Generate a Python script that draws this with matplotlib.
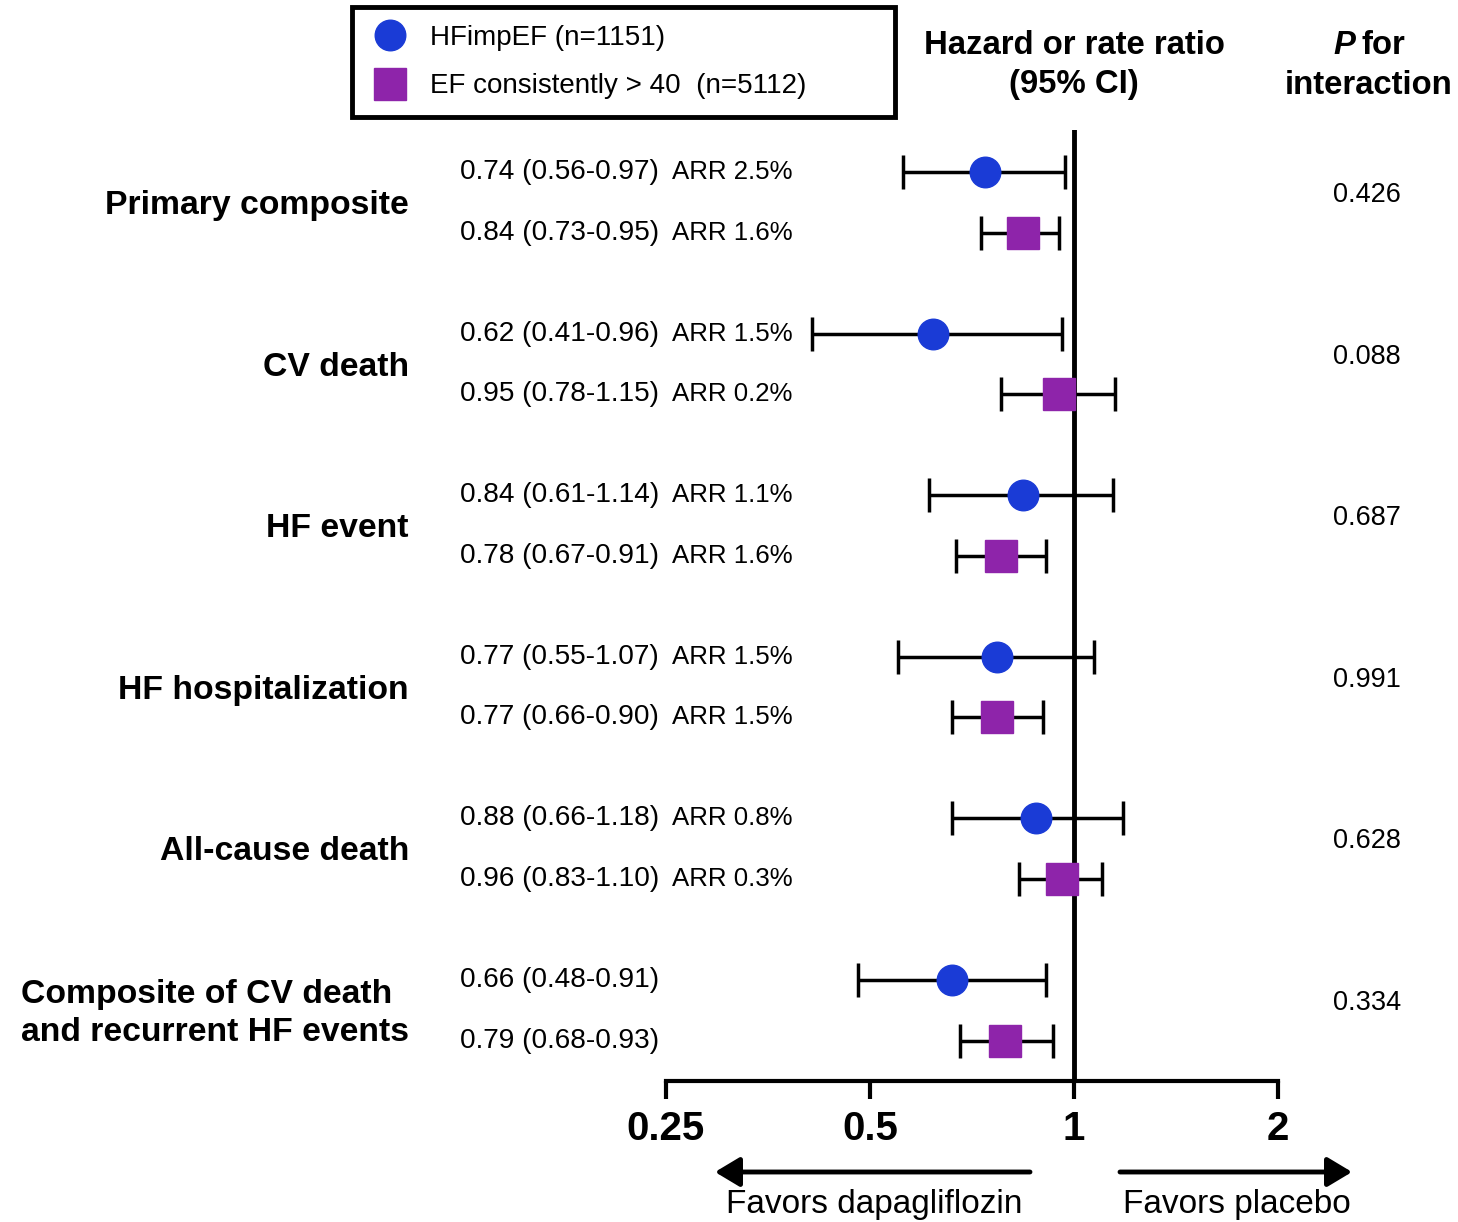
import numpy as np
import matplotlib
matplotlib.use("Agg")
import matplotlib.pyplot as plt
from matplotlib.transforms import blended_transform_factory

plt.rcParams['font.family'] = ['Liberation Sans', 'DejaVu Sans']

# data
outcomes = ['Primary composite', 'CV death', 'HF event', 'HF hospitalization',
            'All-cause death', 'Composite of CV death\nand recurrent HF events']
hr_imp = [0.74, 0.62, 0.84, 0.77, 0.88, 0.66]
lo_imp = [0.56, 0.41, 0.61, 0.55, 0.66, 0.48]
hi_imp = [0.97, 0.96, 1.14, 1.07, 1.18, 0.91]
arr_imp = ['2.5%', '1.5%', '1.1%', '1.5%', '0.8%', None]
hr_ef = [0.84, 0.95, 0.78, 0.77, 0.96, 0.79]
lo_ef = [0.73, 0.78, 0.67, 0.66, 0.83, 0.68]
hi_ef = [0.95, 1.15, 0.91, 0.90, 1.10, 0.93]
arr_ef = ['1.6%', '0.2%', '1.6%', '1.5%', '0.3%', None]
p_int = ['0.426', '0.088', '0.687', '0.991', '0.628', '0.334']
x_ticks = [0.25, 0.5, 1, 2]
x_ticklabels = ['0.25', '0.5', '1', '2']

blue = '#1a3bd6'
purple = '#8e24aa'

W, H = 1458, 1222
fig = plt.figure(figsize=(W / 100, H / 100), dpi=100)


def fx(px):
    return px / W


def fy(py):
    return 1 - py / H


ax = fig.add_axes([fx(666), fy(1081), fx(1278) - fx(666), fy(130) - fy(1081)])

y_imp = np.arange(len(outcomes)).astype(float)
y_ef = y_imp + 0.375

hr_imp = np.array(hr_imp)
hr_ef = np.array(hr_ef)
err_imp = [hr_imp - np.array(lo_imp), np.array(hi_imp) - hr_imp]
err_ef = [hr_ef - np.array(lo_ef), np.array(hi_ef) - hr_ef]

ax.axvline(1, color='black', lw=3.5, zorder=1)
ax.errorbar(hr_imp, y_imp, xerr=err_imp, fmt='none', ecolor='black',
            elinewidth=2.5, capsize=12, capthick=2.5, zorder=2)
ax.errorbar(hr_ef, y_ef, xerr=err_ef, fmt='none', ecolor='black',
            elinewidth=2.5, capsize=12, capthick=2.5, zorder=2)
h1, = ax.plot(hr_imp, y_imp, 'o', color=blue, markersize=22, zorder=3,
              label='HFimpEF (n=1151)')
h2, = ax.plot(hr_ef, y_ef, 's', color=purple, markersize=23, zorder=3,
              label='EF consistently > 40  (n=5112)')

ax.set_xscale('log', base=2)
ax.set_xlim(0.25, 2)
ax.set_ylim(5.625, -0.26)
ax.set_xticks(x_ticks)
ax.set_xticklabels(x_ticklabels, fontsize=29, fontweight='bold')
ax.xaxis.set_minor_locator(matplotlib.ticker.NullLocator())
ax.set_yticks([])
for s in ['left', 'top', 'right']:
    ax.spines[s].set_visible(False)
ax.spines['bottom'].set_linewidth(3)
ax.tick_params(axis='x', direction='out', length=13, width=3, pad=8)

# row texts
tr = blended_transform_factory(fig.transFigure, ax.transData)
for i, name in enumerate(outcomes):
    ax.text(fx(409), (y_imp[i] + y_ef[i]) / 2 + 0.02, name, transform=tr,
            ha='right', va='center', multialignment='left', fontsize=24.3,
            fontweight='bold', linespacing=1.3)
    ax.text(fx(460), y_imp[i], f'{hr_imp[i]:.2f} ({lo_imp[i]:.2f}-{hi_imp[i]:.2f})',
            transform=tr, ha='left', va='center', fontsize=20.2)
    ax.text(fx(460), y_ef[i], f'{hr_ef[i]:.2f} ({lo_ef[i]:.2f}-{hi_ef[i]:.2f})',
            transform=tr, ha='left', va='center', fontsize=20.2)
    if arr_imp[i]:
        ax.text(fx(672), y_imp[i], f'ARR {arr_imp[i]}', transform=tr,
                ha='left', va='center', fontsize=18.6)
    if arr_ef[i]:
        ax.text(fx(672), y_ef[i], f'ARR {arr_ef[i]}', transform=tr,
                ha='left', va='center', fontsize=18.6)
    ax.text(fx(1367), y_imp[i] + 0.142, p_int[i], transform=tr, ha='center',
            va='center', fontsize=19.5)

# headers
fig.text(fx(1074), fy(45), 'Hazard or rate ratio', ha='center',
         va='center', fontsize=23.7, fontweight='bold')
fig.text(fx(1074), fy(85), '(95% CI)', ha='center',
         va='center', fontsize=23.7, fontweight='bold')
fig.text(fx(1355), fy(45), 'P', ha='right', va='center', fontsize=23.7,
         fontweight='bold', style='italic')
fig.text(fx(1361), fy(45), 'for', ha='left', va='center', fontsize=23.7,
         fontweight='bold')
fig.text(fx(1369), fy(85), 'interaction', ha='center', va='center',
         fontsize=23.7, fontweight='bold')

# direction arrows
arrow = dict(arrowstyle='-|>,head_length=0.75,head_width=0.45', lw=3.5,
             color='black', shrinkA=0, shrinkB=0, mutation_scale=20)
ax.annotate('', xy=(fx(715), fy(1172)), xytext=(fx(1030), fy(1172)),
            xycoords='figure fraction', textcoords='figure fraction',
            arrowprops=arrow)
ax.annotate('', xy=(fx(1352), fy(1172)), xytext=(fx(1120), fy(1172)),
            xycoords='figure fraction', textcoords='figure fraction',
            arrowprops=arrow)
fig.text(fx(874), fy(1204), 'Favors dapagliflozin', ha='center', va='center',
         fontsize=24)
fig.text(fx(1237), fy(1204), 'Favors placebo', ha='center', va='center',
         fontsize=24)

leg = fig.legend(handles=[h1, h2], loc='upper left',
                 bbox_to_anchor=(fx(352), fy(121), fx(895) - fx(352), fy(7) - fy(121)),
                 mode='expand', fontsize=20, frameon=True, fancybox=False,
                 framealpha=1, borderpad=0.65, labelspacing=0.8,
                 handlelength=1.4, handletextpad=0.75, borderaxespad=0)
leg.get_frame().set_edgecolor('black')
leg.get_frame().set_linewidth(3.5)

fig.savefig('out.png', dpi=100)
